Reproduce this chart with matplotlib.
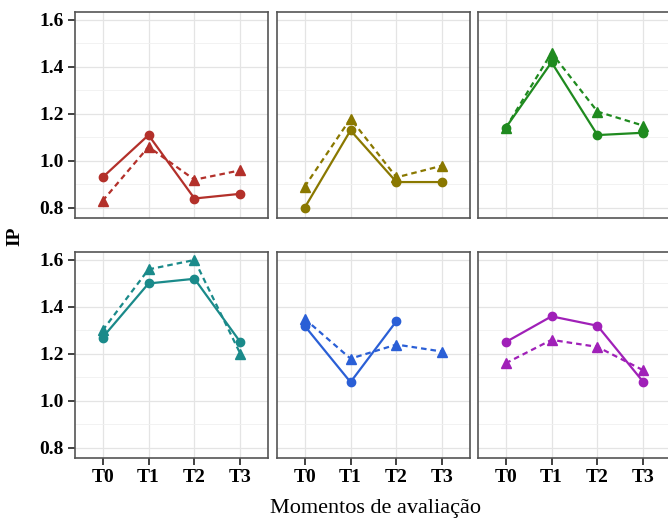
import numpy as np
import matplotlib
matplotlib.use("Agg")
import matplotlib.pyplot as plt
from matplotlib.ticker import MultipleLocator

# moments on the x axis
moments = ["T0", "T1", "T2", "T3"]

# solid line (circles) per panel
red_solid = [0.93, 1.11, 0.84, 0.86]
olive_solid = [0.80, 1.13, 0.91, 0.91]
green_solid = [1.14, 1.42, 1.11, 1.12]
teal_solid = [1.27, 1.50, 1.52, 1.25]
blue_solid = [1.32, 1.08, 1.34, np.nan]
purple_solid = [1.25, 1.36, 1.32, 1.08]

# dashed line (triangles) per panel
red_dash = [0.83, 1.06, 0.92, 0.96]
olive_dash = [0.89, 1.18, 0.93, 0.98]
green_dash = [1.14, 1.46, 1.21, 1.15]
teal_dash = [1.30, 1.56, 1.60, 1.20]
blue_dash = [1.35, 1.18, 1.24, 1.21]
purple_dash = [1.16, 1.26, 1.23, 1.13]

solids = [red_solid, olive_solid, green_solid, teal_solid, blue_solid, purple_solid]
dashes = [red_dash, olive_dash, green_dash, teal_dash, blue_dash, purple_dash]
colors = ["#b3302a", "#8a7800", "#1f8a1f", "#1a8a8a", "#2a5fd6", "#a020b8"]

plt.rcParams["font.family"] = ["Liberation Serif", "DejaVu Serif"]

fig = plt.figure(figsize=(6.68, 5.22), dpi=100)
W, H = 668.0, 522.0
lefts = [75, 277, 478]
tops = [12, 252]
pw, ph = 193, 206

x = np.arange(len(moments))
for i in range(6):
    r, c = divmod(i, 3)
    ax = fig.add_axes([lefts[c] / W, 1 - (tops[r] + ph) / H, pw / W, ph / H])
    ax.set_xlim(-0.6, 3.6)
    ax.set_ylim(0.757, 1.634)
    ax.yaxis.set_major_locator(MultipleLocator(0.2))
    ax.yaxis.set_minor_locator(MultipleLocator(0.1))
    ax.set_xticks(x)
    ax.grid(True, which="major", color="#e4e4e4", lw=0.9)
    ax.grid(True, which="minor", axis="y", color="#f0f0f0", lw=0.6)
    ax.set_axisbelow(True)
    for s in ax.spines.values():
        s.set_color("#555555")
        s.set_linewidth(1.2)
    ax.tick_params(which="major", length=5, width=1.3, color="#333333",
                   labelsize=14, pad=3)
    ax.tick_params(which="minor", length=0)

    col = colors[i]
    ax.plot(x, solids[i], "-", color=col, lw=1.6, marker="o", ms=6)
    ax.plot(x, dashes[i], "--", color=col, lw=1.6, marker="^", ms=6.5, dashes=(2.5, 1.8))

    if c == 0:
        ax.set_yticklabels([f"{v:.1f}" for v in ax.get_yticks()], fontweight="bold")
    else:
        ax.tick_params(axis="y", which="both", left=False, labelleft=False)
    if r == 1:
        ax.set_xticklabels(moments, fontweight="bold")
    else:
        ax.tick_params(axis="x", bottom=False, labelbottom=False)

fig.text(15 / W, 1 - 236 / H, "IP", rotation=90, ha="center", va="center",
         fontsize=14, fontweight="bold")
fig.text(376 / W, 1 - 508 / H, "Momentos de avaliação", ha="center", va="center",
         fontsize=16)

fig.savefig("out.png", dpi=100)
